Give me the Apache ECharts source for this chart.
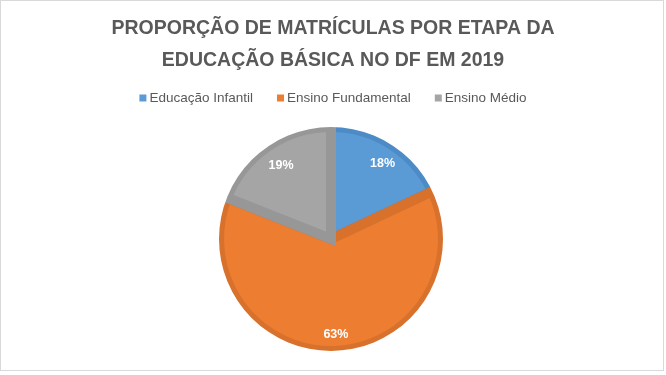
<!DOCTYPE html>
<html>
<head>
<meta charset="utf-8">
<script src="https://cdn.jsdelivr.net/npm/echarts@6/dist/echarts.min.js"></script>
<style>
html,body{margin:0;padding:0;background:#fff;}
#frame{position:absolute;left:0;top:0;width:664px;height:371px;border:1px solid #d9d9d9;box-sizing:border-box;}
#chart{position:absolute;left:0;top:0;width:666px;height:375px;}
</style>
</head>
<body>
<div id="frame"></div>
<div id="chart"></div>
<script>
const titleText = 'PROPORÇÃO DE MATRÍCULAS POR ETAPA DA\nEDUCAÇÃO BÁSICA NO DF EM 2019';
const categories = ['Educação Infantil', 'Ensino Fundamental', 'Ensino Médio'];
const values = [18, 63, 19];
const fillColors = ['#5B9BD5', '#ED7D31', '#A5A5A5'];
const borderColors = ['#4D8BC6', '#D8712B', '#979797'];

const center = [331, 239];
const labelCenter = [333, 242];
const R = 112;

const chart = echarts.init(document.getElementById('chart'), null, {renderer: 'canvas'});
const mainData = categories.map((c, i) => ({
  name: c, value: values[i],
  itemStyle: {color: fillColors[i], borderColor: borderColors[i]}
}));
const labelData = categories.map((c, i) => ({name: c, value: values[i]}));

chart.setOption({
  animation: false,
  title: {
    text: titleText,
    left: 'center', top: 8,
    textStyle: {fontFamily: 'Liberation Sans', fontWeight: 'bold', fontSize: 19.5, color: '#595959', lineHeight: 32}
  },
  legend: {
    top: 86, left: 'center',
    data: categories,
    icon: 'rect', itemWidth: 7, itemHeight: 7, itemGap: 24,
    itemStyle: {borderWidth: 0},
    textStyle: {fontFamily: 'Liberation Sans', fontSize: 13.5, color: '#595959', padding: [0, 0, 0, -2]}
  },
  color: fillColors,
  series: [
    {
      type: 'pie', center: center, radius: [0, R], startAngle: 90, clockwise: true,
      data: mainData, label: {show: false}, labelLine: {show: false},
      itemStyle: {borderWidth: 10, borderJoin: 'miter'},
      emphasis: {disabled: true}, silent: true
    },
    {
      type: 'pie', center: center, radius: [R, R + 14], silent: true,
      data: [{name: 'ring', value: 1, itemStyle: {color: '#ffffff', borderWidth: 0}}],
      label: {show: false}, labelLine: {show: false}, emphasis: {disabled: true}, legendHoverLink: false
    },
    {
      type: 'pie', center: labelCenter, radius: [67, R], startAngle: 90, clockwise: true, silent: true,
      data: labelData,
      itemStyle: {color: 'rgba(0,0,0,0)', borderWidth: 0},
      label: {show: true, position: 'inside', formatter: '{c}%', color: '#ffffff', fontFamily: 'Liberation Sans', fontWeight: 'bold', fontSize: 12.5},
      labelLine: {show: false}, emphasis: {disabled: true}
    }
  ]
});
</script>
</body>
</html>
